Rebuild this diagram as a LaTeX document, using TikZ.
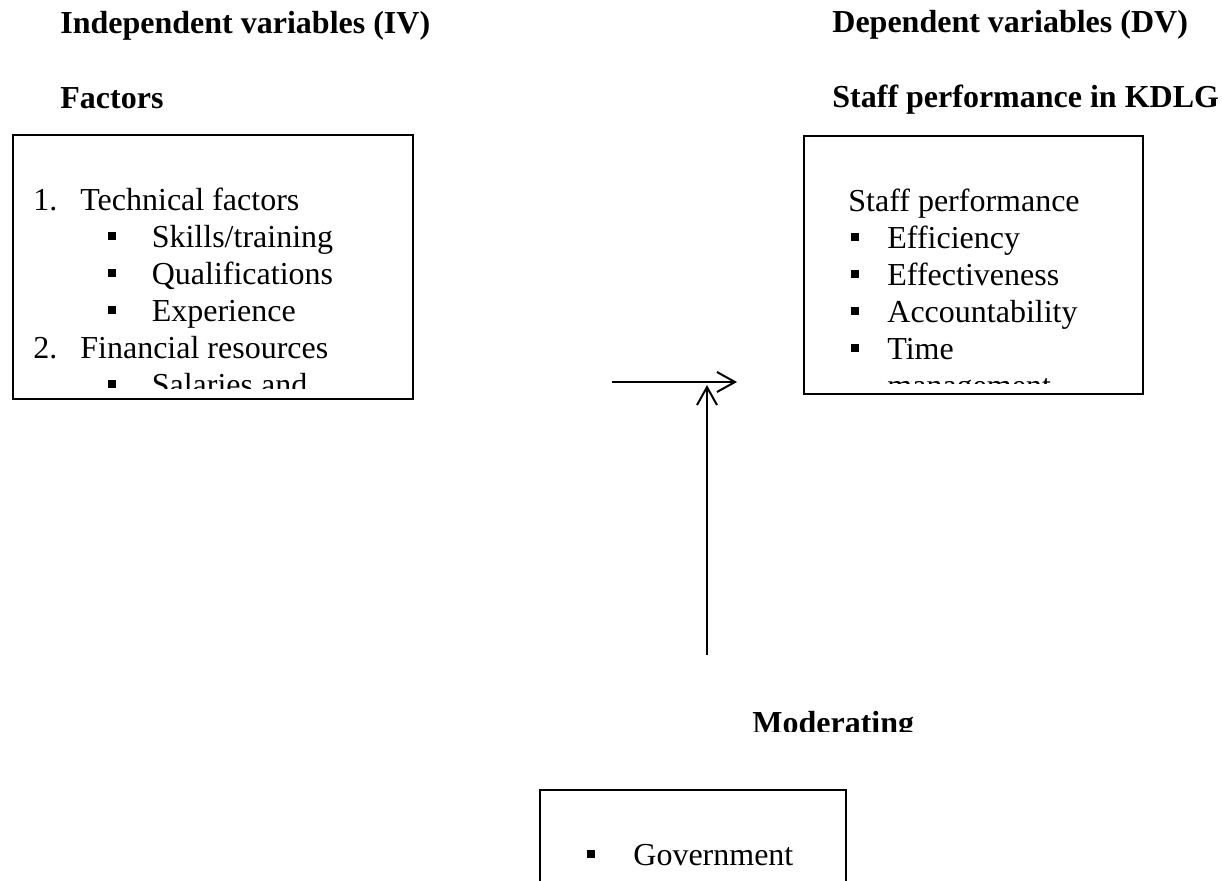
\documentclass[tikz,border=0pt]{standalone}
\usepackage{fontspec}
\setmainfont{Liberation Serif}
\usetikzlibrary{arrows.meta}
\newcommand{\sqbul}{\rule[3.6pt]{4pt}{4pt}}

\begin{document}
\begin{tikzpicture}[x=0.5pt,y=-0.5pt,
  txt/.style={anchor=base west,inner sep=0pt,font=\fontsize{16}{18.4}\selectfont},
  hd/.style={txt,font=\fontsize{16}{18.4}\selectfont\bfseries},
  box/.style={draw,line width=0.9pt,rectangle,anchor=north west,inner sep=0pt},
  arr/.style={line width=1pt,-{Straight Barb[length=9pt,width=10pt]}}]
\useasboundingbox (0,0) rectangle (1222,880);
\clip (0,0) rectangle (1222,880);

\node[hd] (iv) at (60,33) {Independent variables (IV)};
\node[hd] (fac) at (60,108) {Factors};
\node[hd] (dv) at (832,32) {Dependent variables (DV)};
\node[hd] (kdlg) at (832,107) {Staff performance in KDLG};

\node[box,minimum width=200pt,minimum height=132pt] (ivbox) at (12,134) {};
\node[box,minimum width=169.5pt,minimum height=129pt] (dvbox) at (803,135) {};
\node[box,minimum width=153pt,minimum height=90pt] (modbox) at (539,789) {};

\begin{scope}
\clip (12,134) rectangle (412,388);
\node[txt] (tech) at (33,210) {\makebox[23.5pt][l]{1.}Technical factors};
\node[txt] (skill) at (108,247) {\makebox[21.7pt][l]{\sqbul}Skills/training};
\node[txt] (qual) at (108,284) {\makebox[21.7pt][l]{\sqbul}Qualifications};
\node[txt] (exp) at (108,321) {\makebox[21.7pt][l]{\sqbul}Experience};
\node[txt] (fin) at (33,358) {\makebox[23.5pt][l]{2.}Financial resources};
\node[txt] (sal) at (108,395) {\makebox[21.7pt][l]{\sqbul}Salaries and};
\end{scope}

\begin{scope}
\clip (803,135) rectangle (1142,383);
\node[txt] (perf) at (848,211) {Staff performance};
\node[txt] (effi) at (851,248) {\makebox[18pt][l]{\sqbul}Efficiency};
\node[txt] (effe) at (851,285) {\makebox[18pt][l]{\sqbul}Effectiveness};
\node[txt] (acc) at (851,322) {\makebox[18pt][l]{\sqbul}Accountability};
\node[txt] (time) at (851,359) {\makebox[18pt][l]{\sqbul}Time};
\node[txt] (mgmt) at (887,396) {management};
\end{scope}

\begin{scope}
\clip (740,690) rectangle (930,731);
\node[hd] (mod) at (752,733) {Moderating};
\end{scope}
\node[txt] (gov) at (587,865) {\makebox[23pt][l]{\sqbul}Government};

\coordinate (hs) at (612,382);
\coordinate (he) at (737,382);
\coordinate (vs) at (707,655);
\coordinate (ve) at (707,385);
\draw[arr] (hs) -- (he);
\draw[arr] (vs) -- (ve);
\end{tikzpicture}
\end{document}
